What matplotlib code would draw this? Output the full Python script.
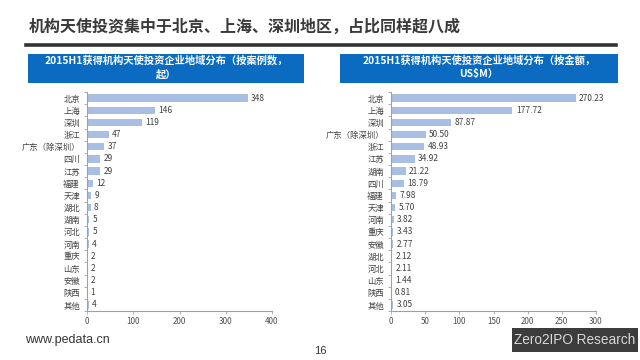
import matplotlib
matplotlib.use("Agg")
import matplotlib.pyplot as plt
from matplotlib.patches import Rectangle
import numpy as np

plt.rcParams['font.family'] = ['Noto Sans CJK SC', 'DejaVu Sans']

title = "机构天使投资集中于北京、上海、深圳地区，占比同样超八成"

left_title = "2015H1获得机构天使投资企业地域分布（按案例数，\n起）"
left_cats = ["北京", "上海", "深圳", "浙江", "广东（除深圳）", "四川", "江苏", "福建", "天津",
             "湖北", "湖南", "河北", "河南", "重庆", "山东", "安徽", "陕西", "其他"]
left_vals = [348, 146, 119, 47, 37, 29, 29, 12, 9, 8, 5, 5, 4, 2, 2, 2, 1, 4]
left_ticks = [0, 100, 200, 300, 400]

right_title = "2015H1获得机构天使投资企业地域分布（按金额，\nUS$M）"
right_cats = ["北京", "上海", "深圳", "广东（除深圳）", "浙江", "江苏", "湖南", "四川", "福建",
              "天津", "河南", "重庆", "安徽", "湖北", "河北", "山东", "陕西", "其他"]
right_vals = [270.23, 177.72, 87.87, 50.50, 48.93, 34.92, 21.22, 18.79, 7.98,
              5.70, 3.82, 3.43, 2.77, 2.12, 2.11, 1.44, 0.81, 3.05]
right_ticks = [0, 50, 100, 150, 200, 250, 300]

W, H = 640, 360
fig = plt.figure(figsize=(6.4, 3.6), dpi=100)
fig.patch.set_facecolor('white')

def fx(x):
    return x / W

def fy(y):
    return 1 - y / H

# Title
fig.text(fx(29), fy(27), title, fontsize=11.5, fontweight='bold', color='#3a3a3a',
         va='center', ha='left')
# Dark rule
fig.add_artist(plt.Line2D([fx(26), fx(616)], [fy(45), fy(45)], color='#333333', lw=2.6))

BLUE = '#0a6bc1'
BAR = '#a8bfe3'

def header(x0, x1, text):
    fig.add_artist(Rectangle((fx(x0), fy(83)), fx(x1) - fx(x0), fy(54) - fy(83),
                             transform=fig.transFigure, facecolor=BLUE, edgecolor='none'))
    fig.text((fx(x0) + fx(x1)) / 2, (fy(54) + fy(83)) / 2 + 0.003, text, color='white',
             fontsize=7.4, fontweight='bold', ha='center', va='center', linespacing=1.35)

header(28, 304, left_title)
header(340, 618, right_title)

def panel(rect, cats, vals, ticks, fmt, off):
    ax = fig.add_axes(rect)
    y = np.arange(len(cats))
    ax.barh(y, vals, height=0.6, color=BAR, edgecolor='none')
    ax.set_ylim(len(cats) - 0.5, -0.5)
    ax.set_xlim(ticks[0], ticks[-1])
    ax.set_yticks(y)
    ax.set_yticklabels(cats, fontsize=6, color='#404040')
    ax.set_yticks(np.arange(len(cats) + 1) - 0.5, minor=True)
    ax.tick_params(axis='y', which='major', length=0, pad=5)
    ax.tick_params(axis='y', which='minor', length=2, color='#a0a0a0', width=0.6)
    ax.set_xticks(ticks)
    ax.set_xticklabels([str(t) for t in ticks], fontsize=5.8, color='#505050')
    ax.tick_params(axis='x', length=2, color='#a0a0a0', width=0.6, pad=2)
    for s in ['top', 'right']:
        ax.spines[s].set_visible(False)
    for s in ['left', 'bottom']:
        ax.spines[s].set_color('#a0a0a0')
        ax.spines[s].set_linewidth(0.8)
    for yi, v in zip(y, vals):
        ax.text(v + off, yi, fmt(v), fontsize=6, color='#404040', va='center', ha='left')
    ax.set_facecolor('none')
    return ax

bottom = fy(311)
height = fy(92) - fy(311)
panel([fx(87), bottom, fx(272) - fx(87), height], left_cats, left_vals, left_ticks,
      lambda v: f"{v:d}", 7)
panel([fx(391), bottom, fx(596) - fx(391), height], right_cats, right_vals, right_ticks,
      lambda v: f"{v:.2f}", 5)

# Footer
fig.text(fx(25), fy(340), "www.pedata.cn", fontsize=9, color='#333333', ha='left', va='center',
         family=['Liberation Sans', 'DejaVu Sans'])
fig.text(fx(320), fy(351), "16", fontsize=8, color='#333333', ha='center', va='center',
         family=['Liberation Sans', 'DejaVu Sans'])
fig.add_artist(Rectangle((fx(512), fy(352)), fx(638) - fx(512), fy(328) - fy(352),
                         transform=fig.transFigure, facecolor='#3c3c3c', edgecolor='none'))
fig.text((fx(512) + fx(638)) / 2, fy(340), "Zero2IPO Research", fontsize=9.8, color='#d8d8d8',
         ha='center', va='center', family=['Liberation Sans', 'DejaVu Sans'])

fig.savefig("out.png", dpi=100, facecolor='white')
